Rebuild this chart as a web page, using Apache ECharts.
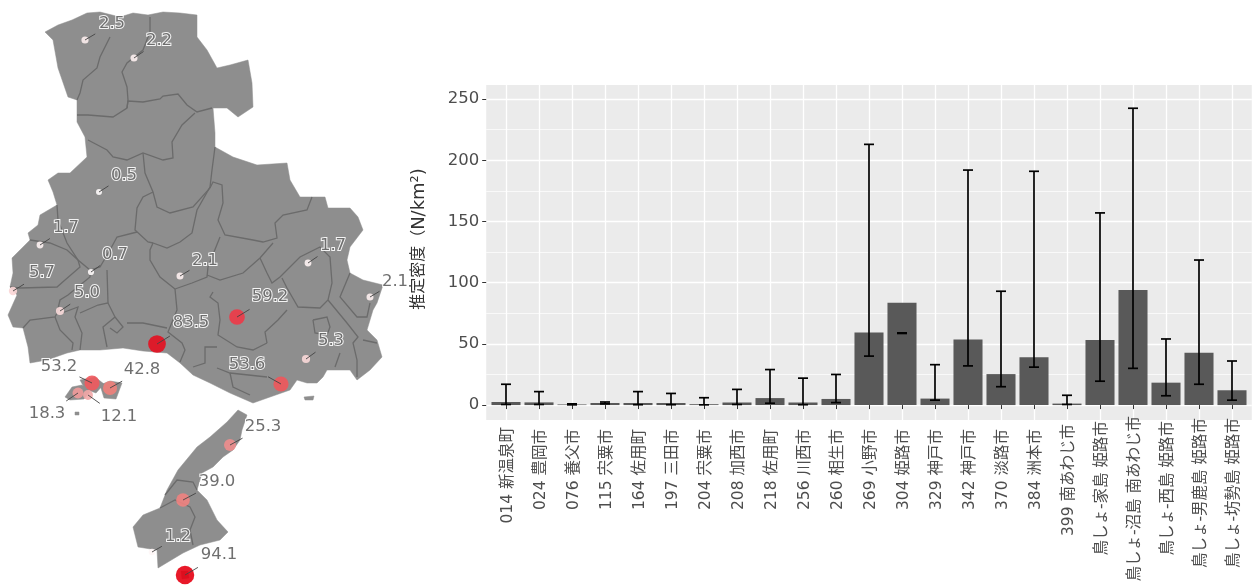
<!DOCTYPE html>
<html>
<head>
<meta charset="utf-8">
<style>html,body{margin:0;padding:0;background:#fff}#c{width:1255px;height:587px;filter:blur(0.55px)}</style>
<script src="https://cdn.jsdelivr.net/npm/echarts@6/dist/echarts.min.js"></script>
</head>
<body>
<div id="c"></div>
<script>
// ---------- bar chart data ----------
const categories = ['014 新温泉町','024 豊岡市','076 養父市','115 宍粟市','164 佐用町','197 三田市','204 宍粟市','208 加西市','218 佐用町','256 川西市','260 相生市','269 小野市','304 姫路市','329 神戸市','342 神戸市','370 淡路市','384 洲本市','399 南あわじ市','鳥しょ-家島 姫路市','鳥しょ-沼島 南あわじ市','鳥しょ-西島 姫路市','鳥しょ-男鹿島 姫路市','鳥しょ-坊勢島 姫路市'];
const density = [2.5,2.2,0.5,1.7,1.7,1.7,0.7,2.1,5.7,2.1,5.0,59.2,83.5,5.3,53.6,25.3,39.0,1.2,53.2,94.1,18.3,42.8,12.1];
const upper = [17,11,1,2.5,11,9.5,6,12.8,29,22,25,213,59,33,192,93,191,8,157,242.5,54,118.5,36];
const lower = [0.5,0.5,0.2,1,0.3,0.3,0.2,0.5,1.5,0.3,2,40,58.5,4,32,15,31,0.5,19.5,30,7.6,17,4];
const yTicks = [0,50,100,150,200,250];
const yMinorTicks = [25,75,125,175,225];
const yNameCjk = '推定密度（';
const yNameLatin = 'N/km²)';

// ---------- map data (map units, y grows southward) ----------
const mainland = [[45,32],[58,25],[72,20],[87,13],[100,12],[120,17],[133,13],[148,15],[163,12],[180,13],[197,15],[197,37],[207,50],[217,68],[230,65],[248,60],[252,83],[253,107],[238,117],[227,108],[213,108],[215,133],[215,147],[233,157],[257,165],[287,163],[290,180],[300,197],[325,197],[328,208],[350,208],[358,217],[363,230],[350,247],[347,260],[350,273],[363,280],[383,285],[377,303],[373,310],[367,330],[377,340],[382,357],[370,370],[357,380],[350,370],[327,370],[323,377],[317,383],[307,383],[297,380],[290,390],[270,397],[253,403],[230,393],[210,383],[193,375],[180,363],[167,353],[143,351],[123,348],[100,350],[80,350],[67,353],[47,360],[30,363],[28,347],[23,328],[13,327],[8,315],[17,295],[10,287],[13,273],[12,258],[20,250],[30,240],[28,233],[38,225],[40,215],[57,205],[53,192],[48,180],[58,173],[70,173],[87,157],[85,137],[77,122],[77,100],[68,97],[58,68],[53,40]];
const awaji = [[238,410],[247,415],[242,430],[240,440],[233,450],[223,457],[213,467],[202,473],[197,490],[207,500],[217,520],[228,532],[220,540],[200,545],[183,553],[158,568],[157,550],[138,547],[133,527],[143,515],[160,508],[167,490],[178,470],[197,447],[210,437],[227,422]];
const islandA = [[65,397],[72,387],[82,385],[90,392],[84,399],[70,400]];
const islandB = [[80,380],[95,377],[104,384],[96,393],[85,389]];
const islandC = [[100,385],[110,381],[122,383],[116,399],[104,398]];
const islandD = [[75,412],[79,412],[79,415],[75,415]];
const islandE = [[181,571],[188,571],[189,578],[182,579]];
const islandF = [[304,397],[314,396],[313,400],[305,400]];
const boundaries = [
 [[110,37],[100,57],[97,68],[83,80],[80,93],[77,100]],
 [[150,17],[150,32],[143,50],[127,63],[122,72],[127,87],[128,100],[127,108]],
 [[77,115],[88,115],[113,117],[127,108],[128,101],[143,102],[160,99],[163,96],[178,94],[187,105],[197,112],[212,108]],
 [[195,113],[182,125],[172,142],[173,158],[163,160],[143,153],[127,160],[113,157],[107,150],[88,140]],
 [[215,147],[212,170],[210,187],[197,210],[192,233],[180,242],[167,248],[153,243],[150,250],[150,260],[160,277],[175,289]],
 [[143,153],[145,173],[153,192],[157,207],[170,213],[193,207],[210,188],[213,182],[222,185],[223,203],[218,220],[225,235],[253,240],[263,242],[277,238],[275,223],[283,215],[307,210],[312,197]],
 [[153,192],[143,197],[137,208],[135,230],[148,242],[153,243]],
 [[57,205],[58,220],[67,243],[78,260],[90,270],[100,267],[110,250],[117,237],[137,232]],
 [[30,240],[50,243],[67,250],[78,260]],
 [[78,260],[80,267],[65,280],[57,287],[20,288],[10,287]],
 [[90,270],[90,277],[68,295],[60,300],[57,313],[55,317],[30,320],[23,328]],
 [[55,317],[60,330],[73,343],[72,350]],
 [[62,313],[78,307],[75,317],[82,333],[80,350]],
 [[107,270],[108,303],[98,305],[80,313]],
 [[108,303],[115,317],[103,327],[107,347]],
 [[115,317],[123,327],[117,333],[110,328]],
 [[175,289],[177,310],[168,332],[182,343],[185,350],[180,362]],
 [[127,323],[143,323],[167,328]],
 [[220,237],[208,267],[207,277],[192,283],[175,289]],
 [[207,275],[220,280],[243,273],[260,258],[273,243]],
 [[260,258],[267,273],[272,283],[280,277],[300,257],[320,247],[330,257],[332,283],[328,300],[320,308],[298,307],[287,288],[282,278]],
 [[328,300],[347,323],[358,337],[353,343],[357,360],[357,377]],
 [[350,273],[340,297],[357,317],[367,317],[370,303]],
 [[313,320],[315,333],[327,335],[330,327],[327,317],[313,320]],
 [[267,343],[265,332],[278,320],[287,310]],
 [[213,292],[210,297],[218,303],[220,320],[218,335],[237,347],[253,350],[267,343]],
 [[193,367],[205,363],[205,347],[217,347]],
 [[230,373],[233,387],[250,395]],
 [[217,368],[230,373],[267,377]],
 [[340,353],[335,367]],
 [[363,340],[377,343]],
 [[165,495],[177,480],[193,482],[197,490]],
 [[160,508],[175,500],[190,507],[195,517],[190,530],[193,545]]
];

// ---------- survey sites ----------
const siteX = [85,134,99,40,91,13,60,180,308,370,237,157,306,281,230,183,152,185,92,110,78,88];
const siteY = [40,58,192,245,272,291,311,276,263,297,317,344,359,384,445,500,552,575,383,388,393,395];
const siteValue = [2.5,2.2,0.5,1.7,0.7,5.7,5.0,2.1,1.7,2.1,59.2,83.5,5.3,53.6,25.3,39.0,1.2,94.1,53.2,42.8,18.3,12.1];
const labelDx = [27,25,25,26,24,29,27,25,25,25,33,34,25,-34,33,34,26,34,-33,32,-31,31];
const labelDy = [-16,-17,-16,-17,-17,-18,-18,-15,-17,-15,-20,-21,-18,-19,-18,-18,-15,-20,-16,-18,21,22];

const toGeo = p => [p[0], -p[1]];
const polys = [mainland, awaji, islandA, islandB, islandC, islandD, islandE, islandF];
const allPts = polys.flat();
const minX = Math.min(...allPts.map(p => p[0])), maxX = Math.max(...allPts.map(p => p[0]));
const minY = Math.min(...allPts.map(p => p[1])), maxY = Math.max(...allPts.map(p => p[1]));
echarts.registerMap('hyogo', {type:'FeatureCollection', features:[{type:'Feature', properties:{name:'兵庫県'},
  geometry:{type:'MultiPolygon', coordinates:polys.map(r => { const g = r.map(toGeo); g.push(g[0]); return [g]; })}}]});

const txt = '#4d4d4d', latin = '"DejaVu Sans","Noto Sans CJK JP",sans-serif';
const xLabelSize = 15.5;
// ggplot-like partial justification of the rotated labels
const ctx = document.createElement('canvas').getContext('2d');
ctx.font = xLabelSize + 'px ' + latin;
const labelLen = categories.map(c => ctx.measureText(c).width);
const maxLen = Math.max(...labelLen);
const xRich = {};
categories.forEach((c,i) => {
  xRich['a'+i] = {color:txt, fontSize:xLabelSize, fontFamily:latin, padding:[4, Math.round(0.156*(maxLen-labelLen[i])), 0, 0]};
});
const panel = {left:486.2, width:765.6, top:85, height:335};
const yr = {min:-12.2, max:261.5};
const chart = echarts.init(document.getElementById('c'), null, {renderer:'canvas'});
chart.setOption({
  animation:false, backgroundColor:'#fff', tooltip:{show:false},
  geo:{map:'hyogo', roam:false, silent:true, aspectScale:1, left:minX, top:minY, width:maxX-minX, height:maxY-minY,
    label:{show:false}, itemStyle:{areaColor:'#8e8e8e', borderColor:'#8e8e8e', borderWidth:0.5}},
  grid:[
    {left:panel.left, top:panel.top, width:panel.width, height:panel.height, show:true, backgroundColor:'#ebebeb', borderWidth:0, outerBoundsMode:'none'},
    {left:panel.left+3.3, top:panel.top, width:panel.width-6.6, height:panel.height, show:false, outerBoundsMode:'none'}
  ],
  xAxis:[
    {gridIndex:0, type:'value', min:0, max:1, show:false},
    {gridIndex:1, type:'category', data:categories, boundaryGap:true,
     axisLine:{show:false},
     axisTick:{show:true, alignWithLabel:true, length:4, lineStyle:{color:'#333', width:1}},
     splitLine:{show:true, alignWithLabel:true, lineStyle:{color:'#fff', width:1.3}},
     axisLabel:{rotate:90, interval:0, margin:-4, hideOverlap:false, formatter:(v,i) => '{a'+i+'|'+v+'}', rich:xRich}}
  ],
  yAxis:[
    {gridIndex:0, type:'value', min:yr.min, max:yr.max, name:'{k|'+yNameCjk+'}{l|'+yNameLatin+'}', nameLocation:'middle', nameGap:58, nameRotate:90,
     nameTextStyle:{padding:[0,0,0,27], rich:{k:{color:'#333', fontSize:16, fontFamily:latin}, l:{color:'#333', fontSize:18, fontFamily:latin}}},
     axisLine:{show:false}, axisTick:{show:true, length:4, customValues:yTicks, lineStyle:{color:'#333', width:1}},
     axisLabel:{margin:7, color:txt, fontSize:16.5, fontFamily:latin, customValues:yTicks},
     splitLine:{show:true, lineStyle:{color:'#fff', width:1.3}}},
    {gridIndex:1, type:'value', min:yr.min, max:yr.max, show:false, splitLine:{show:false}}
  ],
  series:[
    {type:'line', xAxisIndex:0, yAxisIndex:0, data:[], silent:true, z:1,
     markLine:{silent:true, z:1, symbol:'none', label:{show:false}, animation:false,
       lineStyle:{color:'#fff', width:0.7, type:'solid'}, data:yMinorTicks.map(v => ({yAxis:v}))}},
    {type:'bar', xAxisIndex:1, yAxisIndex:1, data:density, barWidth:'88%', itemStyle:{color:'#595959'}, silent:true, z:2},
    {type:'custom', xAxisIndex:1, yAxisIndex:1, z:3, silent:true, clip:false,
     encode:{x:0, y:[1,2]},
     data:categories.map((c,i) => [i, lower[i], upper[i]]),
     renderItem:function(params, api){
       const top = api.coord([api.value(0), api.value(2)]);
       const bot = api.coord([api.value(0), api.value(1)]);
       const s = {stroke:'#000', lineWidth:1.7, fill:null};
       const hw = 5;
       return {type:'group', children:[
         {type:'line', shape:{x1:top[0], y1:top[1], x2:bot[0], y2:bot[1]}, style:s},
         {type:'line', shape:{x1:top[0]-hw, y1:top[1], x2:top[0]+hw, y2:top[1]}, style:s},
         {type:'line', shape:{x1:bot[0]-hw, y1:bot[1], x2:bot[0]+hw, y2:bot[1]}, style:s}
       ]};
     }},
    {type:'lines', coordinateSystem:'geo', polyline:true, silent:true, z:3, animation:false,
     data:boundaries.map(b => ({coords:b.map(toGeo)})),
     lineStyle:{color:'#6b6b6b', width:1.3, opacity:1}},
    {type:'scatter', id:'sites', coordinateSystem:'geo', silent:true, z:4,
     data:siteValue.map((v,i) => [siteX[i], -siteY[i], v]),
     symbolSize:d => 5 + 13.5*Math.sqrt(d[2]/94.1),
     itemStyle:{opacity:0.9},
     label:{show:true, position:'inside', formatter:p => p.value[2].toFixed(1), color:'#5f5f5f', fontSize:16.5, fontFamily:'"DejaVu Sans",sans-serif',
       textBorderColor:'#fff', textBorderWidth:2},
     labelLayout:p => ({dx:labelDx[p.dataIndex], dy:labelDy[p.dataIndex], hideOverlap:false})},
    {type:'lines', coordinateSystem:'geo', silent:true, z:5, animation:false,
     data:siteValue.map((v,i) => ({coords:[[siteX[i],-siteY[i]],[siteX[i]+0.38*labelDx[i],-siteY[i]-0.38*labelDy[i]]]})),
     lineStyle:{color:'#444', width:0.9, opacity:1}}
  ],
  visualMap:{show:false, type:'continuous', seriesIndex:4, dimension:2, min:0, max:94.1,
    inRange:{color:['#ffffff','#f2a8a8','#ee8f8f','#ee8585','#f07c74','#ee3a48','#ea2038','#e60f20','#e60012']}}
});
</script>
</body>
</html>
